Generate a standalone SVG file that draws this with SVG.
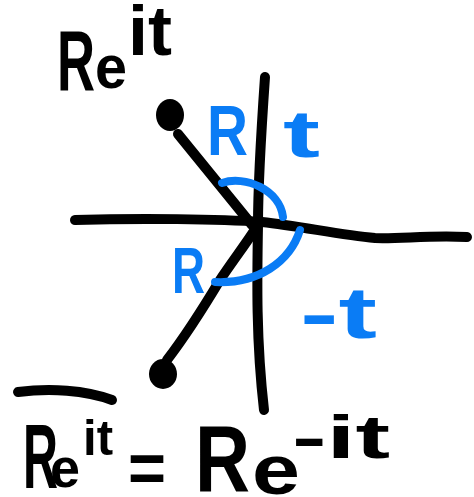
<svg xmlns="http://www.w3.org/2000/svg" width="474" height="497" viewBox="0 0 474 497">
<style>
.ink{fill:none;stroke:#000;stroke-width:10;stroke-linecap:round;stroke-linejoin:round}
.blue{fill:none;stroke:#0a7cf5;stroke-width:8;stroke-linecap:round;stroke-linejoin:round}
.t{font-family:"Liberation Sans",Arial,sans-serif;font-weight:bold}
.tb{fill:#000}
.tc{fill:#0a7cf5}
</style>
<rect width="474" height="497" fill="#fff"/>
<g id="axes">
<path class="ink" d="M75,220 C140,218 220,219 262,222 C300,226 340,235 375,238 C400,239 430,235 467,237"/>
<path class="ink" d="M265,77 C262,120 258,180 258,225 C257,280 256,340 264,410"/>
</g>
<g id="connectors">
<path class="ink" d="M178,134 L252,225"/>
<path class="ink" d="M167,360 C190,330 205,305 220,280 C232,262 245,245 258,225"/>
</g>
<g id="point-upper">
<ellipse cx="170" cy="115" rx="14" ry="16" fill="#000"/>
</g>
<g id="point-lower">
<ellipse cx="163" cy="374" rx="14" ry="15" fill="#000"/>
</g>
<g id="arcs">
<path class="blue" d="M222,183 C245,175 280,190 283,217"/>
<path class="blue" d="M300,230 C290,262 258,284 215,282"/>
</g>
<g id="labels-blue">
<text class="t tc" x="207" y="155" font-size="70" textLength="41" lengthAdjust="spacingAndGlyphs">R</text>
<text class="t tc" x="283" y="157" font-size="66" textLength="37" lengthAdjust="spacingAndGlyphs">t</text>
<text class="t tc" x="172" y="293" font-size="64" textLength="33" lengthAdjust="spacingAndGlyphs">R</text>
<text class="t tc" x="300" y="338" font-size="72" textLength="77" lengthAdjust="spacingAndGlyphs">-t</text>
</g>
<g id="label-top">
<text class="t tb" x="57" y="90" font-size="86" textLength="38" lengthAdjust="spacingAndGlyphs">R</text>
<text class="t tb" x="95" y="88" font-size="62" textLength="32" lengthAdjust="spacingAndGlyphs">e</text>
<text class="t tb" x="128" y="55" font-size="70" textLength="44" lengthAdjust="spacingAndGlyphs">it</text>
</g>
<g id="equation">
<path class="ink" d="M18,392 C50,388 85,390 112,400"/>
<text class="t tb" x="23" y="488" font-size="90" textLength="35" lengthAdjust="spacingAndGlyphs">R</text>
<text class="t tb" x="50" y="487" font-size="55" textLength="30" lengthAdjust="spacingAndGlyphs">e</text>
<text class="t tb" x="83" y="455" font-size="50" textLength="30" lengthAdjust="spacingAndGlyphs">it</text>
<text class="t tb" x="128" y="492" font-size="70" textLength="38" lengthAdjust="spacingAndGlyphs">=</text>
<text class="t tb" x="195" y="492" font-size="95" textLength="55" lengthAdjust="spacingAndGlyphs">R</text>
<text class="t tb" x="252" y="494" font-size="70" textLength="48" lengthAdjust="spacingAndGlyphs">e</text>
<text class="t tb" x="292" y="458" font-size="62" textLength="98" lengthAdjust="spacingAndGlyphs">-it</text>
</g>
</svg>
